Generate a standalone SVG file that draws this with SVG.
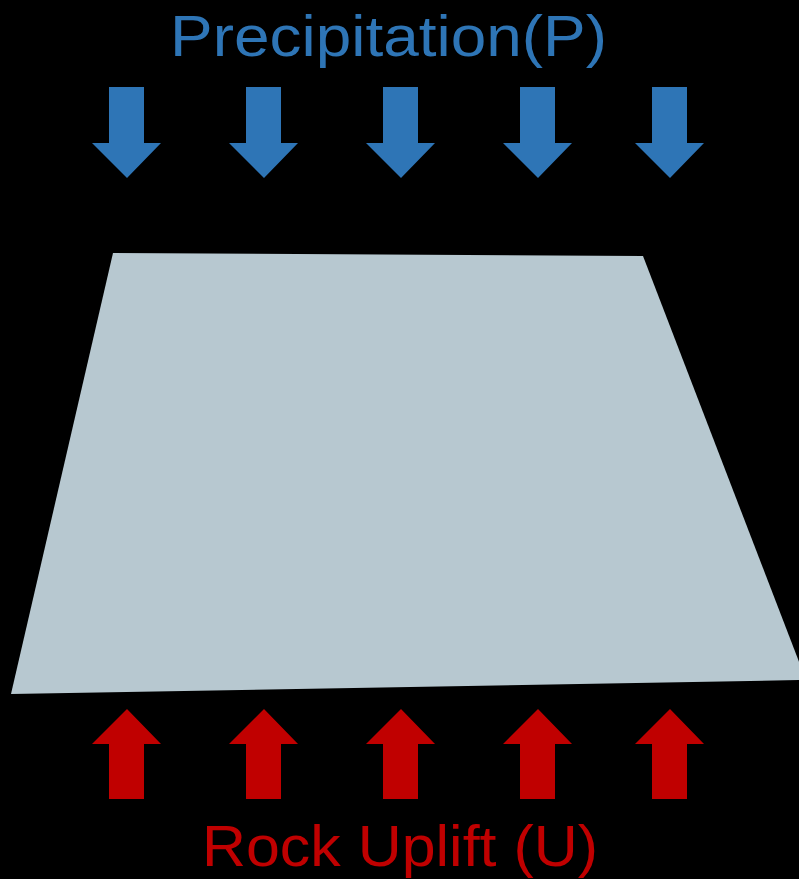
<svg xmlns="http://www.w3.org/2000/svg" width="799" height="879" viewBox="0 0 799 879">
  <defs>
    <style>
      .label { font-family: "Liberation Sans", Arial, sans-serif; font-size: 57px; }
      .rain { fill: #2E75B6; }
      .uplift { fill: #C00000; }
      .block { fill: #B7C8D0; }
    </style>
    <!-- block arrows, drawn centred on x=0 -->
    <polygon id="down" points="-18,87 17,87 17,143 34,143 0,178 -35,143 -18,143"/>
    <polygon id="up" points="0,709 34,744 17,744 17,799 -18,799 -18,744 -35,744"/>
  </defs>
  <rect width="799" height="879" fill="#000"/>

  <g id="landscape">
    <polygon class="block" points="113,253 643,256 806,680 11,694"/>
  </g>

  <g id="precipitation">
    <text class="label rain" x="170" y="56" textLength="437" lengthAdjust="spacingAndGlyphs">Precipitation(P)</text>
    <use href="#down" class="rain" x="127"/>
    <use href="#down" class="rain" x="264"/>
    <use href="#down" class="rain" x="401"/>
    <use href="#down" class="rain" x="538"/>
    <use href="#down" class="rain" x="670"/>
  </g>

  <g id="rock-uplift">
    <use href="#up" class="uplift" x="127"/>
    <use href="#up" class="uplift" x="264"/>
    <use href="#up" class="uplift" x="401"/>
    <use href="#up" class="uplift" x="538"/>
    <use href="#up" class="uplift" x="670"/>
    <text class="label uplift" x="202" y="866" textLength="396" lengthAdjust="spacingAndGlyphs">Rock Uplift (U)</text>
  </g>
</svg>
